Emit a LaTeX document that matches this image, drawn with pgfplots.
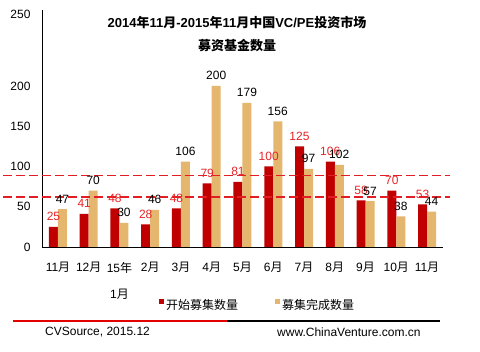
\documentclass[border=0pt]{standalone}
\usepackage{fontspec}
\setmainfont{Liberation Sans}
\newfontfamily\cjk{Noto Sans CJK SC}
\usepackage{pgfplots}
\pgfplotsset{compat=1.18}
\definecolor{barred}{RGB}{192,0,0}
\definecolor{bartan}{RGB}{228,182,110}
\definecolor{lblred}{RGB}{232,36,40}
\definecolor{dashred}{RGB}{226,30,36}
\newcommand\C[1]{{\cjk #1}}
\begin{document}
\begin{tikzpicture}
\useasboundingbox (0,0) rectangle (480pt,352pt);
\node[font=\fontsize{13}{15}\selectfont\bfseries] at (237pt,330pt) {2014\C{年}11\C{月}-2015\C{年}11\C{月}\C{中国}VC/PE\C{投资市场}};
\node[font=\fontsize{13}{15}\selectfont\bfseries] at (237pt,306pt) {\C{募资基金数量}};
\begin{axis}[
  at={(42pt,105pt)}, anchor=south west,
  scale only axis, width=401pt, height=237pt,
  xmin=-0.52, xmax=12.52, ymin=0, ymax=294.4,
  axis x line=bottom, axis y line=left,
  axis line style={-, black, line width=0.8pt},
  ybar=0pt, bar width=9pt,
  major tick length=0pt,
  xtick={0,...,12},
  xticklabels={{11\C{月}},{12\C{月}},{15\C{年}\\[12pt]1\C{月}},{2\C{月}},{3\C{月}},{4\C{月}},{5\C{月}},{6\C{月}},{7\C{月}},{8\C{月}},{9\C{月}},{10\C{月}},{11\C{月}}},
  ytick={0,50,100,150,200,289},
  yticklabels={0,50,100,150,200,250},
  tick label style={font=\fontsize{12}{14}\selectfont},
  yticklabel style={xshift=-8pt},
  xticklabel style={align=center, anchor=north, yshift=-12pt},
  /pgf/number format/assume math mode=true,
  nodes near coords,
  every node near coord/.append style={font=\fontsize{12}{14}\selectfont, anchor=base, yshift=6pt},
  clip=false,
]
\addplot[fill=barred, draw=none, every node near coord/.append style={text=lblred}] coordinates {
(0,25) (1,41) (2,48) (3,28) (4,48) (5,79) (6,81) (7,100) (8,125) (9,106) (10,58) (11,70) (12,53)};
\addplot[fill=bartan, draw=none, every node near coord/.append style={text=black}] coordinates {
(0,47) (1,70) (2,30) (3,46) (4,106) (5,200) (6,179) (7,156) (8,97) (9,102) (10,57) (11,38) (12,44)};
\draw[color=dashred, line width=1.2pt, dash pattern=on 9pt off 4pt]
  (axis cs:-1.79,62) -- (axis cs:12.75,62)
  (axis cs:-1.79,89) -- (axis cs:12.75,89);
\end{axis}
\fill[barred] (158.5pt,47.5pt) rectangle (163.5pt,52.5pt);
\node[anchor=west, inner sep=0pt, font=\fontsize{12}{14}\selectfont] at (166pt,47pt) {\C{开始募集数量}};
\fill[bartan] (274.5pt,47.5pt) rectangle (279.5pt,52.5pt);
\node[anchor=west, inner sep=0pt, font=\fontsize{12}{14}\selectfont] at (282pt,47pt) {\C{募集完成数量}};
\draw[red!90!black, line width=2pt] (13pt,31pt) -- (227pt,31pt);
\draw[black, line width=2pt] (227pt,31pt) -- (440pt,31pt);
\node[anchor=west, inner sep=0pt, font=\fontsize{12}{14}\selectfont] at (45pt,20pt) {CVSource, 2015.12};
\node[anchor=west, inner sep=0pt, font=\fontsize{12}{14}\selectfont] at (277pt,20pt) {www.ChinaVenture.com.cn};
\end{tikzpicture}
\end{document}
